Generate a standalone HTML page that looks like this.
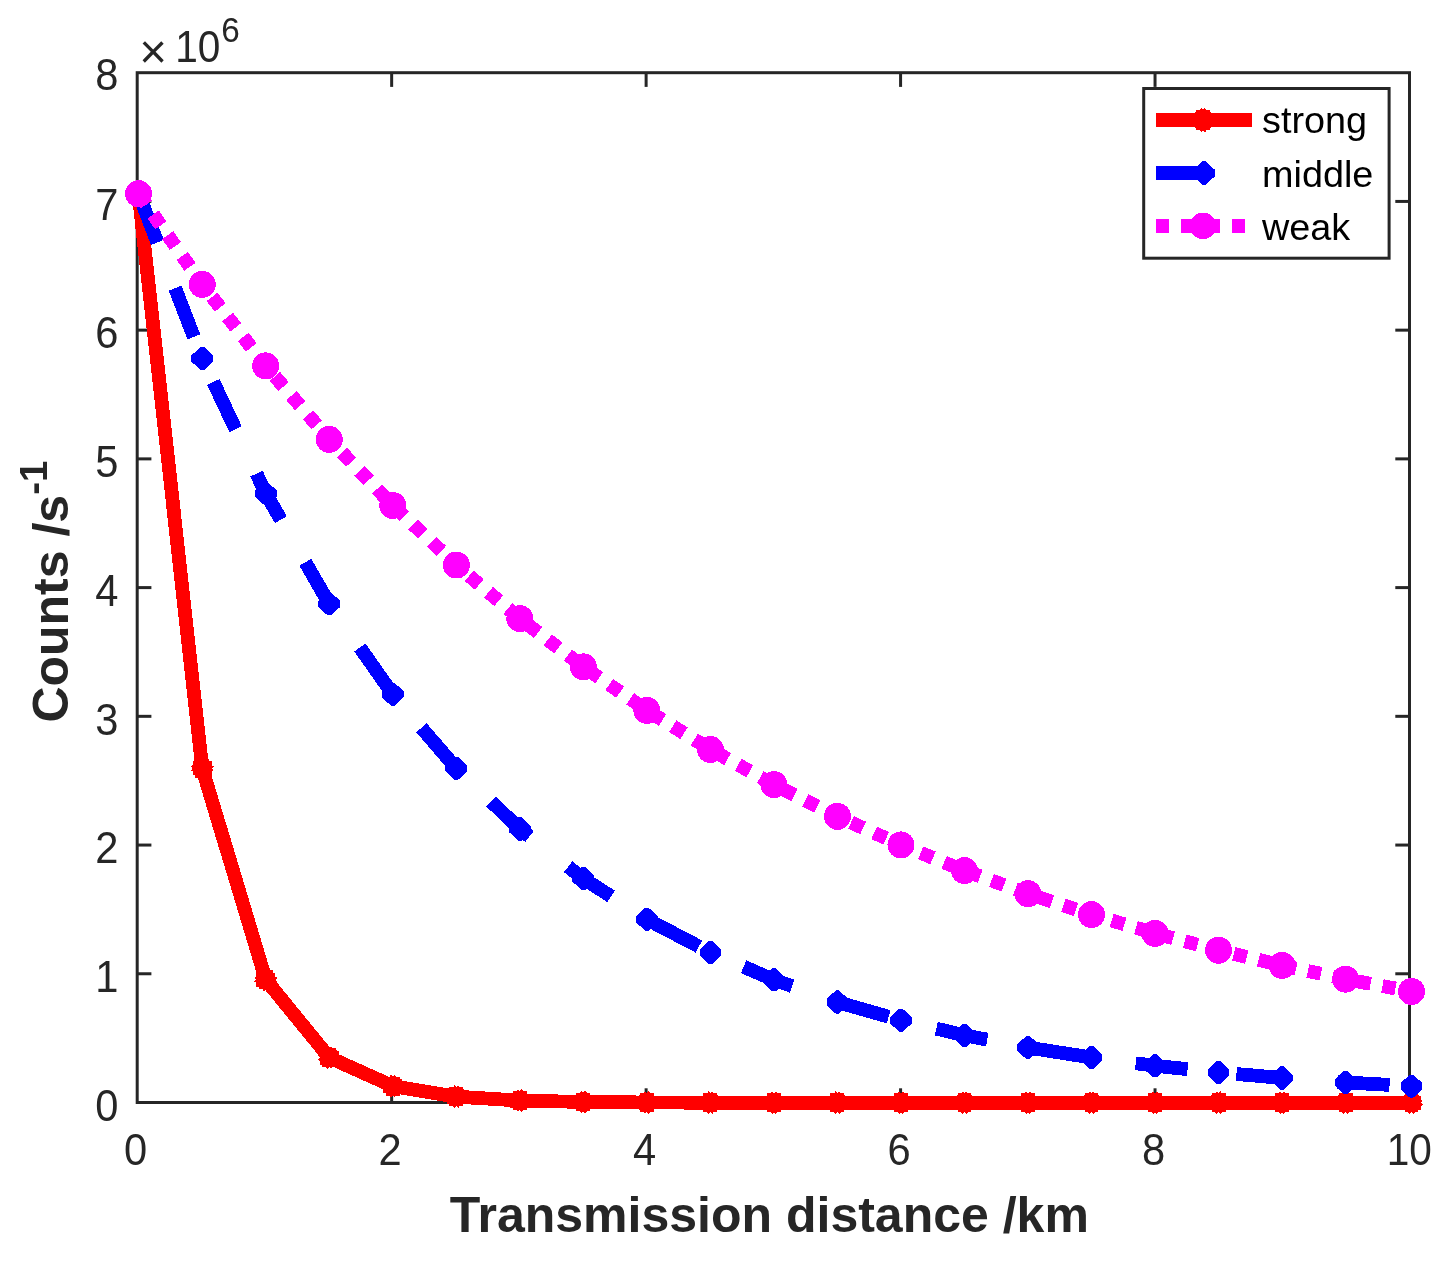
<!DOCTYPE html>
<html><head><meta charset="utf-8"><title>Counts vs transmission distance</title>
<style>html,body{margin:0;padding:0;background:#fff;}body{width:1445px;height:1262px;overflow:hidden;}</style></head>
<body>
<svg width="1445" height="1262" viewBox="0 0 1445 1262" shape-rendering="crispEdges" style="display:block">
<rect x="0" y="0" width="1445" height="1262" fill="#fff"/>
<g shape-rendering="auto" stroke="#262626" stroke-width="3" fill="none" stroke-linecap="butt">
<rect x="137.2" y="72.7" width="1272.3" height="1029.8"/>
<line x1="391.66" y1="1102.5" x2="391.66" y2="1088.3"/>
<line x1="391.66" y1="72.7" x2="391.66" y2="86.9"/>
<line x1="646.12" y1="1102.5" x2="646.12" y2="1088.3"/>
<line x1="646.12" y1="72.7" x2="646.12" y2="86.9"/>
<line x1="900.58" y1="1102.5" x2="900.58" y2="1088.3"/>
<line x1="900.58" y1="72.7" x2="900.58" y2="86.9"/>
<line x1="1155.04" y1="1102.5" x2="1155.04" y2="1088.3"/>
<line x1="1155.04" y1="72.7" x2="1155.04" y2="86.9"/>
<line x1="137.2" y1="973.77" x2="151.39999999999998" y2="973.77"/>
<line x1="1409.5" y1="973.77" x2="1395.3" y2="973.77"/>
<line x1="137.2" y1="845.05" x2="151.39999999999998" y2="845.05"/>
<line x1="1409.5" y1="845.05" x2="1395.3" y2="845.05"/>
<line x1="137.2" y1="716.33" x2="151.39999999999998" y2="716.33"/>
<line x1="1409.5" y1="716.33" x2="1395.3" y2="716.33"/>
<line x1="137.2" y1="587.60" x2="151.39999999999998" y2="587.60"/>
<line x1="1409.5" y1="587.60" x2="1395.3" y2="587.60"/>
<line x1="137.2" y1="458.88" x2="151.39999999999998" y2="458.88"/>
<line x1="1409.5" y1="458.88" x2="1395.3" y2="458.88"/>
<line x1="137.2" y1="330.15" x2="151.39999999999998" y2="330.15"/>
<line x1="1409.5" y1="330.15" x2="1395.3" y2="330.15"/>
<line x1="137.2" y1="201.43" x2="151.39999999999998" y2="201.43"/>
<line x1="1409.5" y1="201.43" x2="1395.3" y2="201.43"/>
</g>
<g font-family="'Liberation Sans', Arial, sans-serif" font-size="41.67" fill="#262626" shape-rendering="auto">
<text transform="translate(135.70,1164.8) scale(1,1.05)" text-anchor="middle">0</text>
<text transform="translate(390.16,1164.8) scale(1,1.05)" text-anchor="middle">2</text>
<text transform="translate(644.62,1164.8) scale(1,1.05)" text-anchor="middle">4</text>
<text transform="translate(899.08,1164.8) scale(1,1.05)" text-anchor="middle">6</text>
<text transform="translate(1153.54,1164.8) scale(1,1.05)" text-anchor="middle">8</text>
<text transform="translate(1409.30,1164.8) scale(0.975,1.05)" text-anchor="middle">10</text>
<text transform="translate(118.5,1120.80) scale(1,1.05)" text-anchor="end">0</text>
<text transform="translate(118.5,992.07) scale(1,1.05)" text-anchor="end">1</text>
<text transform="translate(118.5,863.35) scale(1,1.05)" text-anchor="end">2</text>
<text transform="translate(118.5,734.62) scale(1,1.05)" text-anchor="end">3</text>
<text transform="translate(118.5,605.90) scale(1,1.05)" text-anchor="end">4</text>
<text transform="translate(118.5,477.18) scale(1,1.05)" text-anchor="end">5</text>
<text transform="translate(118.5,348.45) scale(1,1.05)" text-anchor="end">6</text>
<text transform="translate(118.5,219.73) scale(1,1.05)" text-anchor="end">7</text>
<text transform="translate(118.5,89.80) scale(1,1.05)" text-anchor="end">8</text>
<text transform="translate(139.3,68.2)" font-size="47.5">×</text>
<text transform="translate(175.2,62.1) scale(0.975,1.05)">10</text>
<text transform="translate(221.3,41.5) scale(1,1.05)" font-size="33.3">6</text>
</g>
<g font-family="'Liberation Sans', Arial, sans-serif" font-weight="bold" font-size="50" fill="#262626" shape-rendering="auto">
<text x="769.3" y="1231.8" text-anchor="middle">Transmission distance /km</text>
<text transform="translate(68.4,591.6) rotate(-90)" text-anchor="middle">Counts /s<tspan font-size="38.5" dy="-21.5">-1</tspan></text>
</g>
<g fill="none" stroke-linejoin="miter" stroke-linecap="butt">
<polyline points="138.60,193.70 202.24,768.36 265.76,979.77 329.28,1057.54 392.80,1086.15 456.32,1096.67 519.84,1100.55 583.36,1101.97 646.88,1102.50 710.40,1102.69 773.92,1102.76 837.44,1102.78 900.96,1102.79 964.48,1102.80 1028.00,1102.80 1091.52,1102.80 1155.04,1102.80 1218.56,1102.80 1282.08,1102.80 1345.60,1102.80 1411.50,1102.80" stroke="#ff0000" stroke-width="13.8"/>
<polygon points="131.63,186.17 131.63,184.28 135.30,184.28 136.72,182.30 138.60,184.09 140.48,182.30 141.90,184.28 145.57,184.28 145.57,186.17 146.14,186.73 148.02,186.73 148.02,190.40 150.00,191.82 148.21,193.70 150.00,195.59 148.02,197.00 148.02,200.67 146.14,200.67 145.57,201.24 145.57,203.12 141.90,203.12 140.48,205.10 138.60,203.31 136.72,205.10 135.30,203.12 131.63,203.12 131.63,201.24 131.06,200.67 129.18,200.67 129.18,197.00 127.20,195.59 128.99,193.70 127.20,191.82 129.18,190.40 129.18,186.73 131.06,186.73" fill="#ff0000"/>
<polygon points="195.27,760.82 195.27,758.94 198.94,758.94 200.36,756.96 202.24,758.75 204.12,756.96 205.54,758.94 209.21,758.94 209.21,760.82 209.78,761.39 211.66,761.39 211.66,765.06 213.64,766.48 211.85,768.36 213.64,770.25 211.66,771.66 211.66,775.33 209.78,775.33 209.21,775.90 209.21,777.78 205.54,777.78 204.12,779.76 202.24,777.97 200.36,779.76 198.94,777.78 195.27,777.78 195.27,775.90 194.70,775.33 192.82,775.33 192.82,771.66 190.84,770.25 192.63,768.36 190.84,766.48 192.82,765.06 192.82,761.39 194.70,761.39" fill="#ff0000"/>
<polygon points="258.79,972.23 258.79,970.35 262.46,970.35 263.88,968.37 265.76,970.16 267.64,968.37 269.06,970.35 272.73,970.35 272.73,972.23 273.30,972.80 275.18,972.80 275.18,976.47 277.16,977.88 275.37,979.77 277.16,981.65 275.18,983.06 275.18,986.74 273.30,986.74 272.73,987.30 272.73,989.19 269.06,989.19 267.64,991.17 265.76,989.38 263.88,991.17 262.46,989.19 258.79,989.19 258.79,987.30 258.22,986.74 256.34,986.74 256.34,983.06 254.36,981.65 256.15,979.77 254.36,977.88 256.34,976.47 256.34,972.80 258.22,972.80" fill="#ff0000"/>
<polygon points="322.31,1050.00 322.31,1048.12 325.98,1048.12 327.40,1046.14 329.28,1047.93 331.16,1046.14 332.58,1048.12 336.25,1048.12 336.25,1050.00 336.82,1050.57 338.70,1050.57 338.70,1054.24 340.68,1055.65 338.89,1057.54 340.68,1059.42 338.70,1060.84 338.70,1064.51 336.82,1064.51 336.25,1065.08 336.25,1066.96 332.58,1066.96 331.16,1068.94 329.28,1067.15 327.40,1068.94 325.98,1066.96 322.31,1066.96 322.31,1065.08 321.74,1064.51 319.86,1064.51 319.86,1060.84 317.88,1059.42 319.67,1057.54 317.88,1055.65 319.86,1054.24 319.86,1050.57 321.74,1050.57" fill="#ff0000"/>
<polygon points="385.83,1078.61 385.83,1076.73 389.50,1076.73 390.92,1074.75 392.80,1076.54 394.68,1074.75 396.10,1076.73 399.77,1076.73 399.77,1078.61 400.34,1079.18 402.22,1079.18 402.22,1082.85 404.20,1084.27 402.41,1086.15 404.20,1088.03 402.22,1089.45 402.22,1093.12 400.34,1093.12 399.77,1093.69 399.77,1095.57 396.10,1095.57 394.68,1097.55 392.80,1095.76 390.92,1097.55 389.50,1095.57 385.83,1095.57 385.83,1093.69 385.26,1093.12 383.38,1093.12 383.38,1089.45 381.40,1088.03 383.19,1086.15 381.40,1084.27 383.38,1082.85 383.38,1079.18 385.26,1079.18" fill="#ff0000"/>
<polygon points="449.35,1089.14 449.35,1087.25 453.02,1087.25 454.44,1085.27 456.32,1087.06 458.20,1085.27 459.62,1087.25 463.29,1087.25 463.29,1089.14 463.86,1089.70 465.74,1089.70 465.74,1093.38 467.72,1094.79 465.93,1096.67 467.72,1098.56 465.74,1099.97 465.74,1103.65 463.86,1103.65 463.29,1104.21 463.29,1106.10 459.62,1106.10 458.20,1108.07 456.32,1106.28 454.44,1108.07 453.02,1106.10 449.35,1106.10 449.35,1104.21 448.78,1103.65 446.90,1103.65 446.90,1099.97 444.92,1098.56 446.71,1096.67 444.92,1094.79 446.90,1093.38 446.90,1089.70 448.78,1089.70" fill="#ff0000"/>
<polygon points="512.87,1093.01 512.87,1091.13 516.54,1091.13 517.96,1089.15 519.84,1090.94 521.72,1089.15 523.14,1091.13 526.81,1091.13 526.81,1093.01 527.38,1093.57 529.26,1093.57 529.26,1097.25 531.24,1098.66 529.45,1100.55 531.24,1102.43 529.26,1103.84 529.26,1107.52 527.38,1107.52 526.81,1108.08 526.81,1109.97 523.14,1109.97 521.72,1111.95 519.84,1110.16 517.96,1111.95 516.54,1109.97 512.87,1109.97 512.87,1108.08 512.30,1107.52 510.42,1107.52 510.42,1103.84 508.44,1102.43 510.23,1100.55 508.44,1098.66 510.42,1097.25 510.42,1093.57 512.30,1093.57" fill="#ff0000"/>
<polygon points="576.39,1094.43 576.39,1092.55 580.06,1092.55 581.48,1090.57 583.36,1092.36 585.24,1090.57 586.66,1092.55 590.33,1092.55 590.33,1094.43 590.90,1095.00 592.78,1095.00 592.78,1098.67 594.76,1100.09 592.97,1101.97 594.76,1103.86 592.78,1105.27 592.78,1108.94 590.90,1108.94 590.33,1109.51 590.33,1111.39 586.66,1111.39 585.24,1113.37 583.36,1111.58 581.48,1113.37 580.06,1111.39 576.39,1111.39 576.39,1109.51 575.82,1108.94 573.94,1108.94 573.94,1105.27 571.96,1103.86 573.75,1101.97 571.96,1100.09 573.94,1098.67 573.94,1095.00 575.82,1095.00" fill="#ff0000"/>
<polygon points="639.91,1094.96 639.91,1093.07 643.58,1093.07 645.00,1091.10 646.88,1092.89 648.76,1091.10 650.18,1093.07 653.85,1093.07 653.85,1094.96 654.42,1095.52 656.30,1095.52 656.30,1099.20 658.28,1100.61 656.49,1102.50 658.28,1104.38 656.30,1105.79 656.30,1109.47 654.42,1109.47 653.85,1110.03 653.85,1111.92 650.18,1111.92 648.76,1113.90 646.88,1112.10 645.00,1113.90 643.58,1111.92 639.91,1111.92 639.91,1110.03 639.34,1109.47 637.46,1109.47 637.46,1105.79 635.48,1104.38 637.27,1102.50 635.48,1100.61 637.46,1099.20 637.46,1095.52 639.34,1095.52" fill="#ff0000"/>
<polygon points="703.43,1095.15 703.43,1093.27 707.10,1093.27 708.52,1091.29 710.40,1093.08 712.28,1091.29 713.70,1093.27 717.37,1093.27 717.37,1095.15 717.94,1095.72 719.82,1095.72 719.82,1099.39 721.80,1100.80 720.01,1102.69 721.80,1104.57 719.82,1105.99 719.82,1109.66 717.94,1109.66 717.37,1110.22 717.37,1112.11 713.70,1112.11 712.28,1114.09 710.40,1112.30 708.52,1114.09 707.10,1112.11 703.43,1112.11 703.43,1110.22 702.86,1109.66 700.98,1109.66 700.98,1105.99 699.00,1104.57 700.79,1102.69 699.00,1100.80 700.98,1099.39 700.98,1095.72 702.86,1095.72" fill="#ff0000"/>
<polygon points="766.95,1095.22 766.95,1093.34 770.62,1093.34 772.04,1091.36 773.92,1093.15 775.80,1091.36 777.22,1093.34 780.89,1093.34 780.89,1095.22 781.46,1095.79 783.34,1095.79 783.34,1099.46 785.32,1100.87 783.53,1102.76 785.32,1104.64 783.34,1106.06 783.34,1109.73 781.46,1109.73 780.89,1110.30 780.89,1112.18 777.22,1112.18 775.80,1114.16 773.92,1112.37 772.04,1114.16 770.62,1112.18 766.95,1112.18 766.95,1110.30 766.38,1109.73 764.50,1109.73 764.50,1106.06 762.52,1104.64 764.31,1102.76 762.52,1100.87 764.50,1099.46 764.50,1095.79 766.38,1095.79" fill="#ff0000"/>
<polygon points="830.47,1095.25 830.47,1093.36 834.14,1093.36 835.56,1091.38 837.44,1093.17 839.32,1091.38 840.74,1093.36 844.41,1093.36 844.41,1095.25 844.98,1095.81 846.86,1095.81 846.86,1099.49 848.84,1100.90 847.05,1102.78 848.84,1104.67 846.86,1106.08 846.86,1109.76 844.98,1109.76 844.41,1110.32 844.41,1112.21 840.74,1112.21 839.32,1114.18 837.44,1112.39 835.56,1114.18 834.14,1112.21 830.47,1112.21 830.47,1110.32 829.90,1109.76 828.02,1109.76 828.02,1106.08 826.04,1104.67 827.83,1102.78 826.04,1100.90 828.02,1099.49 828.02,1095.81 829.90,1095.81" fill="#ff0000"/>
<polygon points="893.99,1095.26 893.99,1093.37 897.66,1093.37 899.08,1091.39 900.96,1093.18 902.84,1091.39 904.26,1093.37 907.93,1093.37 907.93,1095.26 908.50,1095.82 910.38,1095.82 910.38,1099.50 912.36,1100.91 910.57,1102.79 912.36,1104.68 910.38,1106.09 910.38,1109.77 908.50,1109.77 907.93,1110.33 907.93,1112.22 904.26,1112.22 902.84,1114.19 900.96,1112.40 899.08,1114.19 897.66,1112.22 893.99,1112.22 893.99,1110.33 893.42,1109.77 891.54,1109.77 891.54,1106.09 889.56,1104.68 891.35,1102.79 889.56,1100.91 891.54,1099.50 891.54,1095.82 893.42,1095.82" fill="#ff0000"/>
<polygon points="957.51,1095.26 957.51,1093.38 961.18,1093.38 962.60,1091.40 964.48,1093.19 966.36,1091.40 967.78,1093.38 971.45,1093.38 971.45,1095.26 972.02,1095.83 973.90,1095.83 973.90,1099.50 975.88,1100.91 974.09,1102.80 975.88,1104.68 973.90,1106.10 973.90,1109.77 972.02,1109.77 971.45,1110.34 971.45,1112.22 967.78,1112.22 966.36,1114.20 964.48,1112.41 962.60,1114.20 961.18,1112.22 957.51,1112.22 957.51,1110.34 956.94,1109.77 955.06,1109.77 955.06,1106.10 953.08,1104.68 954.87,1102.80 953.08,1100.91 955.06,1099.50 955.06,1095.83 956.94,1095.83" fill="#ff0000"/>
<polygon points="1021.03,1095.26 1021.03,1093.38 1024.70,1093.38 1026.12,1091.40 1028.00,1093.19 1029.88,1091.40 1031.30,1093.38 1034.97,1093.38 1034.97,1095.26 1035.54,1095.83 1037.42,1095.83 1037.42,1099.50 1039.40,1100.91 1037.61,1102.80 1039.40,1104.68 1037.42,1106.10 1037.42,1109.77 1035.54,1109.77 1034.97,1110.34 1034.97,1112.22 1031.30,1112.22 1029.88,1114.20 1028.00,1112.41 1026.12,1114.20 1024.70,1112.22 1021.03,1112.22 1021.03,1110.34 1020.46,1109.77 1018.58,1109.77 1018.58,1106.10 1016.60,1104.68 1018.39,1102.80 1016.60,1100.91 1018.58,1099.50 1018.58,1095.83 1020.46,1095.83" fill="#ff0000"/>
<polygon points="1084.55,1095.26 1084.55,1093.38 1088.22,1093.38 1089.64,1091.40 1091.52,1093.19 1093.40,1091.40 1094.82,1093.38 1098.49,1093.38 1098.49,1095.26 1099.06,1095.83 1100.94,1095.83 1100.94,1099.50 1102.92,1100.92 1101.13,1102.80 1102.92,1104.68 1100.94,1106.10 1100.94,1109.77 1099.06,1109.77 1098.49,1110.34 1098.49,1112.22 1094.82,1112.22 1093.40,1114.20 1091.52,1112.41 1089.64,1114.20 1088.22,1112.22 1084.55,1112.22 1084.55,1110.34 1083.98,1109.77 1082.10,1109.77 1082.10,1106.10 1080.12,1104.68 1081.91,1102.80 1080.12,1100.92 1082.10,1099.50 1082.10,1095.83 1083.98,1095.83" fill="#ff0000"/>
<polygon points="1148.07,1095.26 1148.07,1093.38 1151.74,1093.38 1153.16,1091.40 1155.04,1093.19 1156.92,1091.40 1158.34,1093.38 1162.01,1093.38 1162.01,1095.26 1162.58,1095.83 1164.46,1095.83 1164.46,1099.50 1166.44,1100.92 1164.65,1102.80 1166.44,1104.68 1164.46,1106.10 1164.46,1109.77 1162.58,1109.77 1162.01,1110.34 1162.01,1112.22 1158.34,1112.22 1156.92,1114.20 1155.04,1112.41 1153.16,1114.20 1151.74,1112.22 1148.07,1112.22 1148.07,1110.34 1147.50,1109.77 1145.62,1109.77 1145.62,1106.10 1143.64,1104.68 1145.43,1102.80 1143.64,1100.92 1145.62,1099.50 1145.62,1095.83 1147.50,1095.83" fill="#ff0000"/>
<polygon points="1211.59,1095.26 1211.59,1093.38 1215.26,1093.38 1216.68,1091.40 1218.56,1093.19 1220.44,1091.40 1221.86,1093.38 1225.53,1093.38 1225.53,1095.26 1226.10,1095.83 1227.98,1095.83 1227.98,1099.50 1229.96,1100.92 1228.17,1102.80 1229.96,1104.68 1227.98,1106.10 1227.98,1109.77 1226.10,1109.77 1225.53,1110.34 1225.53,1112.22 1221.86,1112.22 1220.44,1114.20 1218.56,1112.41 1216.68,1114.20 1215.26,1112.22 1211.59,1112.22 1211.59,1110.34 1211.02,1109.77 1209.14,1109.77 1209.14,1106.10 1207.16,1104.68 1208.95,1102.80 1207.16,1100.92 1209.14,1099.50 1209.14,1095.83 1211.02,1095.83" fill="#ff0000"/>
<polygon points="1275.11,1095.26 1275.11,1093.38 1278.78,1093.38 1280.20,1091.40 1282.08,1093.19 1283.96,1091.40 1285.38,1093.38 1289.05,1093.38 1289.05,1095.26 1289.62,1095.83 1291.50,1095.83 1291.50,1099.50 1293.48,1100.92 1291.69,1102.80 1293.48,1104.68 1291.50,1106.10 1291.50,1109.77 1289.62,1109.77 1289.05,1110.34 1289.05,1112.22 1285.38,1112.22 1283.96,1114.20 1282.08,1112.41 1280.20,1114.20 1278.78,1112.22 1275.11,1112.22 1275.11,1110.34 1274.54,1109.77 1272.66,1109.77 1272.66,1106.10 1270.68,1104.68 1272.47,1102.80 1270.68,1100.92 1272.66,1099.50 1272.66,1095.83 1274.54,1095.83" fill="#ff0000"/>
<polygon points="1338.63,1095.26 1338.63,1093.38 1342.30,1093.38 1343.72,1091.40 1345.60,1093.19 1347.48,1091.40 1348.90,1093.38 1352.57,1093.38 1352.57,1095.26 1353.14,1095.83 1355.02,1095.83 1355.02,1099.50 1357.00,1100.92 1355.21,1102.80 1357.00,1104.68 1355.02,1106.10 1355.02,1109.77 1353.14,1109.77 1352.57,1110.34 1352.57,1112.22 1348.90,1112.22 1347.48,1114.20 1345.60,1112.41 1343.72,1114.20 1342.30,1112.22 1338.63,1112.22 1338.63,1110.34 1338.06,1109.77 1336.18,1109.77 1336.18,1106.10 1334.20,1104.68 1335.99,1102.80 1334.20,1100.92 1336.18,1099.50 1336.18,1095.83 1338.06,1095.83" fill="#ff0000"/>
<polygon points="1404.53,1095.26 1404.53,1093.38 1408.20,1093.38 1409.62,1091.40 1411.50,1093.19 1413.38,1091.40 1414.80,1093.38 1418.47,1093.38 1418.47,1095.26 1419.04,1095.83 1420.92,1095.83 1420.92,1099.50 1422.90,1100.92 1421.11,1102.80 1422.90,1104.68 1420.92,1106.10 1420.92,1109.77 1419.04,1109.77 1418.47,1110.34 1418.47,1112.22 1414.80,1112.22 1413.38,1114.20 1411.50,1112.41 1409.62,1114.20 1408.20,1112.22 1404.53,1112.22 1404.53,1110.34 1403.96,1109.77 1402.08,1109.77 1402.08,1106.10 1400.10,1104.68 1401.89,1102.80 1400.10,1100.92 1402.08,1099.50 1402.08,1095.83 1403.96,1095.83" fill="#ff0000"/>
<polyline points="138.60,193.70 202.24,358.49 265.76,493.41 329.28,603.88 392.80,694.32 456.32,768.36 519.84,828.99 583.36,878.62 646.88,919.26 710.40,952.53 773.92,979.77 837.44,1002.07 900.96,1020.33 964.48,1035.28 1028.00,1047.52 1091.52,1057.54 1155.04,1065.74 1218.56,1072.46 1282.08,1077.96 1345.60,1082.46 1411.50,1086.15" stroke="#0000ff" stroke-width="13.8" stroke-dasharray="52.2 49.1"/>
<polygon points="136.90,182.10 140.30,182.10 149.50,190.70 149.50,196.70 140.30,205.30 136.90,205.30 127.70,196.70 127.70,190.70" fill="#0000ff"/>
<polygon points="200.54,346.89 203.94,346.89 213.14,355.49 213.14,361.49 203.94,370.09 200.54,370.09 191.34,361.49 191.34,355.49" fill="#0000ff"/>
<polygon points="264.06,481.81 267.46,481.81 276.66,490.41 276.66,496.41 267.46,505.01 264.06,505.01 254.86,496.41 254.86,490.41" fill="#0000ff"/>
<polygon points="327.58,592.28 330.98,592.28 340.18,600.88 340.18,606.88 330.98,615.48 327.58,615.48 318.38,606.88 318.38,600.88" fill="#0000ff"/>
<polygon points="391.10,682.72 394.50,682.72 403.70,691.32 403.70,697.32 394.50,705.92 391.10,705.92 381.90,697.32 381.90,691.32" fill="#0000ff"/>
<polygon points="454.62,756.76 458.02,756.76 467.22,765.36 467.22,771.36 458.02,779.96 454.62,779.96 445.42,771.36 445.42,765.36" fill="#0000ff"/>
<polygon points="518.14,817.39 521.54,817.39 530.74,825.99 530.74,831.99 521.54,840.59 518.14,840.59 508.94,831.99 508.94,825.99" fill="#0000ff"/>
<polygon points="581.66,867.02 585.06,867.02 594.26,875.62 594.26,881.62 585.06,890.22 581.66,890.22 572.46,881.62 572.46,875.62" fill="#0000ff"/>
<polygon points="645.18,907.66 648.58,907.66 657.78,916.26 657.78,922.26 648.58,930.86 645.18,930.86 635.98,922.26 635.98,916.26" fill="#0000ff"/>
<polygon points="708.70,940.93 712.10,940.93 721.30,949.53 721.30,955.53 712.10,964.13 708.70,964.13 699.50,955.53 699.50,949.53" fill="#0000ff"/>
<polygon points="772.22,968.17 775.62,968.17 784.82,976.77 784.82,982.77 775.62,991.37 772.22,991.37 763.02,982.77 763.02,976.77" fill="#0000ff"/>
<polygon points="835.74,990.47 839.14,990.47 848.34,999.07 848.34,1005.07 839.14,1013.67 835.74,1013.67 826.54,1005.07 826.54,999.07" fill="#0000ff"/>
<polygon points="899.26,1008.73 902.66,1008.73 911.86,1017.33 911.86,1023.33 902.66,1031.93 899.26,1031.93 890.06,1023.33 890.06,1017.33" fill="#0000ff"/>
<polygon points="962.78,1023.68 966.18,1023.68 975.38,1032.28 975.38,1038.28 966.18,1046.88 962.78,1046.88 953.58,1038.28 953.58,1032.28" fill="#0000ff"/>
<polygon points="1026.30,1035.92 1029.70,1035.92 1038.90,1044.52 1038.90,1050.52 1029.70,1059.12 1026.30,1059.12 1017.10,1050.52 1017.10,1044.52" fill="#0000ff"/>
<polygon points="1089.82,1045.94 1093.22,1045.94 1102.42,1054.54 1102.42,1060.54 1093.22,1069.14 1089.82,1069.14 1080.62,1060.54 1080.62,1054.54" fill="#0000ff"/>
<polygon points="1153.34,1054.14 1156.74,1054.14 1165.94,1062.74 1165.94,1068.74 1156.74,1077.34 1153.34,1077.34 1144.14,1068.74 1144.14,1062.74" fill="#0000ff"/>
<polygon points="1216.86,1060.86 1220.26,1060.86 1229.46,1069.46 1229.46,1075.46 1220.26,1084.06 1216.86,1084.06 1207.66,1075.46 1207.66,1069.46" fill="#0000ff"/>
<polygon points="1280.38,1066.36 1283.78,1066.36 1292.98,1074.96 1292.98,1080.96 1283.78,1089.56 1280.38,1089.56 1271.18,1080.96 1271.18,1074.96" fill="#0000ff"/>
<polygon points="1343.90,1070.86 1347.30,1070.86 1356.50,1079.46 1356.50,1085.46 1347.30,1094.06 1343.90,1094.06 1334.70,1085.46 1334.70,1079.46" fill="#0000ff"/>
<polygon points="1409.80,1074.55 1413.20,1074.55 1422.40,1083.15 1422.40,1089.15 1413.20,1097.75 1409.80,1097.75 1400.60,1089.15 1400.60,1083.15" fill="#0000ff"/>
<polyline points="138.60,193.70 202.24,284.32 265.76,365.90 329.28,439.35 392.80,505.48 456.32,565.02 519.84,618.62 583.36,666.88 646.88,710.33 710.40,749.45 773.92,784.67 837.44,816.38 900.96,844.93 964.48,870.63 1028.00,893.78 1091.52,914.61 1155.04,933.37 1218.56,950.26 1282.08,965.46 1345.60,979.15 1411.50,991.48" stroke="#ff00ff" stroke-width="13.8" stroke-dasharray="13.3 12.04"/>
<circle cx="138.60" cy="193.70" r="13.5" fill="#ff00ff"/>
<circle cx="202.24" cy="284.32" r="13.5" fill="#ff00ff"/>
<circle cx="265.76" cy="365.90" r="13.5" fill="#ff00ff"/>
<circle cx="329.28" cy="439.35" r="13.5" fill="#ff00ff"/>
<circle cx="392.80" cy="505.48" r="13.5" fill="#ff00ff"/>
<circle cx="456.32" cy="565.02" r="13.5" fill="#ff00ff"/>
<circle cx="519.84" cy="618.62" r="13.5" fill="#ff00ff"/>
<circle cx="583.36" cy="666.88" r="13.5" fill="#ff00ff"/>
<circle cx="646.88" cy="710.33" r="13.5" fill="#ff00ff"/>
<circle cx="710.40" cy="749.45" r="13.5" fill="#ff00ff"/>
<circle cx="773.92" cy="784.67" r="13.5" fill="#ff00ff"/>
<circle cx="837.44" cy="816.38" r="13.5" fill="#ff00ff"/>
<circle cx="900.96" cy="844.93" r="13.5" fill="#ff00ff"/>
<circle cx="964.48" cy="870.63" r="13.5" fill="#ff00ff"/>
<circle cx="1028.00" cy="893.78" r="13.5" fill="#ff00ff"/>
<circle cx="1091.52" cy="914.61" r="13.5" fill="#ff00ff"/>
<circle cx="1155.04" cy="933.37" r="13.5" fill="#ff00ff"/>
<circle cx="1218.56" cy="950.26" r="13.5" fill="#ff00ff"/>
<circle cx="1282.08" cy="965.46" r="13.5" fill="#ff00ff"/>
<circle cx="1345.60" cy="979.15" r="13.5" fill="#ff00ff"/>
<circle cx="1411.50" cy="991.48" r="13.5" fill="#ff00ff"/>
</g>
<rect x="1143.7" y="88.5" width="245.4" height="169.7" fill="#fff" stroke="#262626" stroke-width="3" shape-rendering="auto"/>
<line x1="1155.8" x2="1252.1" y1="120.05" y2="120.05" stroke="#ff0000" stroke-width="13.8"/>
<polygon points="1195.65,112.05 1195.65,110.05 1199.55,110.05 1201.05,107.95 1203.05,109.85 1205.05,107.95 1206.55,110.05 1210.45,110.05 1210.45,112.05 1211.05,112.65 1213.05,112.65 1213.05,116.55 1215.15,118.05 1213.25,120.05 1215.15,122.05 1213.05,123.55 1213.05,127.45 1211.05,127.45 1210.45,128.05 1210.45,130.05 1206.55,130.05 1205.05,132.15 1203.05,130.25 1201.05,132.15 1199.55,130.05 1195.65,130.05 1195.65,128.05 1195.05,127.45 1193.05,127.45 1193.05,123.55 1190.95,122.05 1192.85,120.05 1190.95,118.05 1193.05,116.55 1193.05,112.65 1195.05,112.65" fill="#ff0000"/>
<line x1="1155.8" x2="1252.1" y1="173.05" y2="173.05" stroke="#0000ff" stroke-width="13.8" stroke-dasharray="52.2 49.1"/>
<polygon points="1202.55,161.45 1205.95,161.45 1215.15,170.05 1215.15,176.05 1205.95,184.65 1202.55,184.65 1193.35,176.05 1193.35,170.05" fill="#0000ff"/>
<line x1="1155.8" x2="1252.1" y1="225.9" y2="225.9" stroke="#ff00ff" stroke-width="13.8" stroke-dasharray="13.3 12.04"/>
<circle cx="1203.0499999999997" cy="225.9" r="13.3" fill="#ff00ff"/>
<g font-family="'Liberation Sans', Arial, sans-serif" font-size="37.8" fill="#000" shape-rendering="auto">
<text x="1262" y="133.1">strong</text>
<text x="1262" y="186.6">middle</text>
<text x="1262" y="239.7">weak</text>
</g>
</svg>
</body></html>
